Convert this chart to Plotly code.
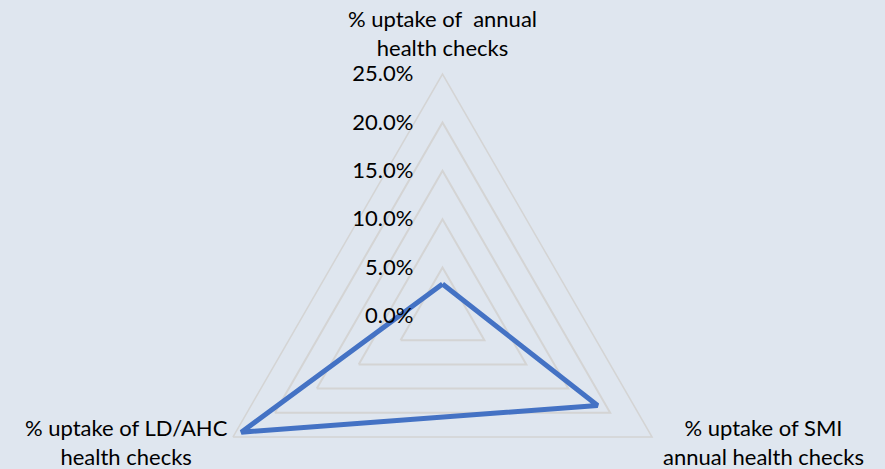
import plotly.graph_objects as go

# Health-check uptake by programme
categories = [
    "% uptake of \u00a0annual<br>health checks",
    "% uptake of SMI<br>annual health checks",
    "% uptake of LD/AHC<br>health checks",
]
uptake = [0.033, 0.185, 0.240]

radial_ticks = [0.0, 0.05, 0.10, 0.15, 0.20, 0.25]

BG = "#DFE6EF"
GRID = "#D4D4D4"
LINE = "#4472C4"
FONT = "Lato, 'Open Sans', sans-serif"
FONT_SIZE = 22

W, H = 885, 558
MT = 74  # top margin: the polar domain spans the rest of the height

fig = go.Figure()
fig.add_trace(
    go.Scatterpolar(
        r=uptake + uptake[:1],
        theta=categories + categories[:1],
        mode="lines",
        line=dict(color=LINE, width=5),
        hoverinfo="skip",
        showlegend=False,
    )
)


def px_to_paper(x, y):
    """Convert page pixels to paper coordinates of the plot area."""
    return x / W, (H - y) / (H - MT)


# Category labels around the triangle, centred on each vertex
label_pos = [(442, 33), (763, 442), (126, 442)]
for text, (lx, ly) in zip(categories, label_pos):
    px, py = px_to_paper(lx, ly)
    fig.add_annotation(
        x=px, y=py, xref="paper", yref="paper",
        text=text, showarrow=False,
        xanchor="center", yanchor="middle", align="center",
        font=dict(family=FONT, size=FONT_SIZE, color="#000000"),
    )

fig.update_layout(
    width=W,
    height=H,
    margin=dict(l=0, r=0, t=MT, b=0),
    paper_bgcolor=BG,
    plot_bgcolor=BG,
    font=dict(family=FONT, size=FONT_SIZE, color="#000000"),
    polar=dict(
        bgcolor=BG,
        gridshape="linear",
        domain=dict(x=[0, 1], y=[0, 1]),
        radialaxis=dict(
            range=[0, 0.25],
            tickvals=radial_ticks,
            tickformat=".1%",
            angle=90,
            tickangle=90,
            side="counterclockwise",
            showline=False,
            showgrid=True,
            gridcolor=GRID,
            gridwidth=1.5,
            ticks="outside",
            ticklen=21,
            tickcolor="rgba(0,0,0,0)",
            tickfont=dict(size=FONT_SIZE, color="#000000"),
        ),
        angularaxis=dict(
            direction="clockwise",
            rotation=90,
            showgrid=False,
            showline=True,
            linecolor=GRID,
            linewidth=1.5,
            ticks="",
            showticklabels=False,
        ),
    ),
)

fig.write_html(
    "out.html",
    post_script="document.documentElement.style.overflow='hidden';document.body.style.overflow='hidden';document.body.style.margin='0';",
)
